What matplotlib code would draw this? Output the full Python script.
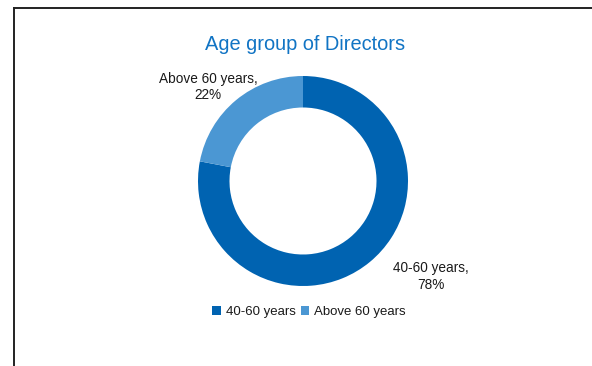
import matplotlib
matplotlib.use("Agg")
import matplotlib.pyplot as plt
from matplotlib.lines import Line2D
from matplotlib.patches import Patch

plt.rcParams['font.family'] = ['Liberation Sans', 'DejaVu Sans']

# age split of the board
groups = ["40-60 years", "Above 60 years"]
shares = [78, 22]
colors = ["#0063B1", "#4B97D3"]

W, H = 592, 366
fig = plt.figure(figsize=(W / 100, H / 100), dpi=100)

# donut: centre (303, 181) px, outer radius 105 px
cx, cy, r = 303, 181, 105
ax = fig.add_axes([(cx - r) / W, (H - cy - r) / H, 2 * r / W, 2 * r / H])
ax.pie(shares, colors=colors, startangle=90, counterclock=False,
       radius=1.0, wedgeprops=dict(width=0.3, edgecolor="none"))
ax.set_xlim(-1, 1)
ax.set_ylim(-1, 1)
ax.set_aspect("equal")
ax.axis("off")

# data labels
label_pos = [(1.22, -0.91), (-0.905, 0.895)]
for name, val, (lx, ly) in zip(groups, shares, label_pos):
    ax.text(lx, ly, f"{name},\n{val}%", ha="center", va="center",
            fontsize=9.8, color="#1a1a1a", linespacing=1.2, clip_on=False)

fig.text(305 / W, 1 - 45 / H, "Age group of Directors", ha="center", va="center",
         fontsize=14.4, color="#1174C4")

handles = [Patch(facecolor=c, edgecolor="none") for c in colors]
fig.legend(handles, groups, loc="center", bbox_to_anchor=(309 / W, 1 - 312 / H),
           ncol=2, frameon=False, fontsize=9.5, handlelength=0.65, handleheight=0.65,
           handletextpad=0.35, columnspacing=0.4, labelcolor="#1a1a1a")

# outer frame (top and left edges only are in view)
fig.add_artist(Line2D([13.5 / W, 1], [1 - 7.5 / H] * 2, color="#222222", lw=1.4))
fig.add_artist(Line2D([14 / W] * 2, [0, 1 - 7.5 / H], color="#222222", lw=1.4))

fig.savefig("out.png", dpi=100)
